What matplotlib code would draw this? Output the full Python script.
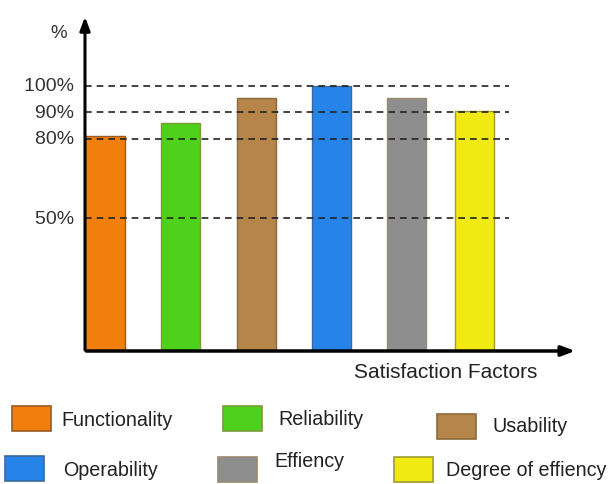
import matplotlib.pyplot as plt
from matplotlib.patches import Rectangle

plt.rcParams['font.family'] = ['Liberation Sans', 'DejaVu Sans']

factors = ["Functionality", "Reliability", "Usability", "Operability", "Effiency", "Degree of effiency"]
values = [81, 86, 95.5, 100, 95.5, 90.5]
colors = ["#F07F0C", "#4ED11A", "#B5854A", "#2683E8", "#8E8E8E", "#F0EA12"]
edges = ["#9A5A20", "#7A9A3A", "#8A6A3A", "#3A6A9A", "#9A8A70", "#A09A30"]
grid_levels = [50, 80, 90, 100]
grid_labels = ["50%", "80%", "90%", "100%"]

W, H = 613, 485
fig = plt.figure(figsize=(W / 100, H / 100), dpi=100)

# main axes: y axis at x=85px, x axis at y=352px, arrows to (85,15) and (578,352)
x0, y0, x1, y1 = 85, 352, 578, 15
ax = fig.add_axes([x0 / W, 1 - y0 / H, (x1 - x0) / W, (y0 - y1) / H])
ax.set_xlim(-0.27, 6.4)
ax.set_ylim(0, 127)
for s in ax.spines.values():
    s.set_visible(False)
ax.set_xticks([])
ax.set_yticks([])

pos = [0, 1.02, 2.05, 3.07, 4.08, 5.0]
ax.bar(pos, values, width=0.53, color=colors, edgecolor=edges, linewidth=1, zorder=2)

for lv, lb in zip(grid_levels, grid_labels):
    ax.plot([-0.27, 5.47], [lv, lv], color="#222222", lw=1.2, ls=(0, (4, 3)), zorder=3)
    ax.text(-0.27, lv, lb + "  ", ha="right", va="center", fontsize=14, color="#333333")

# arrows for axes
ax.annotate("", xy=(0, 1), xytext=(0, -0.005), xycoords="axes fraction",
            arrowprops=dict(arrowstyle="-|>,head_length=0.8,head_width=0.3", color="black", lw=2.2), zorder=4)
ax.annotate("", xy=(1, 0), xytext=(-0.003, 0), xycoords="axes fraction",
            arrowprops=dict(arrowstyle="-|>,head_length=0.8,head_width=0.3", color="black", lw=2.5), zorder=4)

fig.text(59 / W, 1 - 34 / H, "%", ha="center", va="center", fontsize=13.5, color="#333333")
fig.text(446 / W, 1 - 373 / H, "Satisfaction Factors", ha="center", va="center", fontsize=15, color="#222222")

# legend swatches placed in pixel coords
lg = fig.add_axes([0, 0, 1, 1])
lg.set_xlim(0, W)
lg.set_ylim(H, 0)
lg.axis("off")
swatch_xy = [(12, 407), (223, 407), (437, 415), (5, 457), (218, 458), (394, 458)]
text_xy = [(61, 421), (278, 420), (492, 427), (63, 471), (274, 462), (446, 471)]
for i, name in enumerate(factors):
    sx, sy = swatch_xy[i]
    lg.add_patch(Rectangle((sx, sy), 39, 25, facecolor=colors[i], edgecolor=edges[i], lw=1.2))
    tx, ty = text_xy[i]
    lg.text(tx, ty, name, ha="left", va="center", fontsize=14.2, color="#222222")

fig.savefig("out.png", dpi=100)
